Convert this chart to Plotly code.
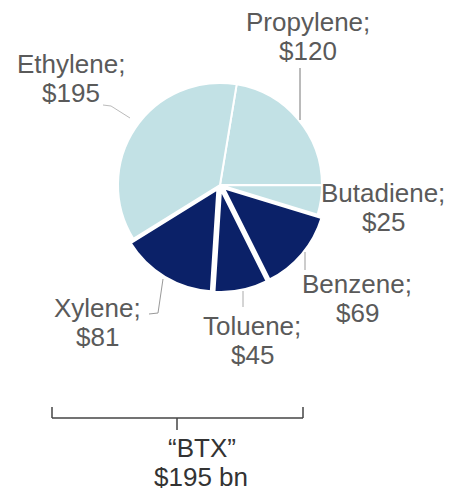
import plotly.graph_objects as go

# Petrochemical market value by product, $ bn
products = ["Propylene", "Butadiene", "Benzene", "Toluene", "Xylene", "Ethylene"]
values = [120, 25, 69, 45, 81, 195]
aromatics = ["Benzene", "Toluene", "Xylene"]

LIGHT = "#c2e1e5"
DARK = "#0b2168"
TEXT = "#5a5a5a"
FONT = "Liberation Sans, Arial, sans-serif"

W, H = 456, 493

colors = [DARK if p in aromatics else LIGHT for p in products]
pulls = [0.05 if p in aromatics else 0 for p in products]

fig = go.Figure()

# pie centred at (220, 185) px with radius ~102 px
cx, cy, r = 220, 185, 102
half = r * 1.05
fig.add_trace(go.Pie(
    labels=products,
    values=values,
    sort=False,
    direction="clockwise",
    rotation=9.4,
    pull=pulls,
    marker=dict(colors=colors, line=dict(color="white", width=2)),
    textinfo="none",
    hoverinfo="label+value",
    showlegend=False,
    domain=dict(x=[(cx - half) / W, (cx + half) / W],
                y=[1 - (cy + half) / H, 1 - (cy - half) / H]),
))

# label placement: (centre x, baseline of first line) in px
label_pos = {
    "Ethylene": (71, 73),
    "Propylene": (308, 31),
    "Butadiene": (383, 202),
    "Benzene": (357, 293),
    "Toluene": (252, 335),
    "Xylene": (97, 317),
}
line_gap = 29
fs = 26

annotations = []
for name, val in zip(products, values):
    x, base = label_pos[name]
    annotations.append(dict(x=x, y=base - 9, text=f"{name};", xref="x", yref="y",
                            showarrow=False, xanchor="center", yanchor="middle",
                            font=dict(family=FONT, size=fs, color=TEXT)))
    annotations.append(dict(x=x, y=base + line_gap - 9, text=f"${val}", xref="x", yref="y",
                            showarrow=False, xanchor="center", yanchor="middle",
                            font=dict(family=FONT, size=fs, color=TEXT)))

btx_total = sum(v for p, v in zip(products, values) if p in aromatics)
annotations.append(dict(x=202, y=457 - 9, text="\u201cBTX\u201d", xref="x", yref="y",
                        showarrow=False, xanchor="center", yanchor="middle",
                        font=dict(family=FONT, size=fs, color="#333333")))
annotations.append(dict(x=201, y=486 - 9, text=f"${btx_total} bn", xref="x", yref="y",
                        showarrow=False, xanchor="center", yanchor="middle",
                        font=dict(family=FONT, size=fs, color="#333333")))

# leader lines and the BTX bracket
def seg(x0, y0, x1, y1, color="#777777", width=1):
    return dict(type="line", xref="x", yref="y", x0=x0, y0=y0, x1=x1, y1=y1,
                line=dict(color=color, width=width), layer="above")

shapes = [
    seg(103, 105, 111, 106, "#bbbbbb"),
    seg(111, 106, 130, 118, "#bbbbbb"),
    seg(300, 68, 300, 120, "#777777"),
    seg(305, 252, 305, 270, "#999999"),
    seg(243, 291, 243, 307, "#aaaaaa"),
    seg(163, 279, 158, 313, "#999999"),
    seg(158, 313, 149, 314, "#999999"),
    # bracket
    seg(52, 418, 303, 418, "#444444", 1.5),
    seg(52, 407, 52, 418, "#444444", 1.5),
    seg(303, 407, 303, 418, "#444444", 1.5),
    seg(177, 418, 177, 430, "#444444", 1.5),
]

fig.update_layout(
    width=W, height=H,
    margin=dict(l=0, r=0, t=0, b=0),
    paper_bgcolor="white",
    plot_bgcolor="rgba(0,0,0,0)",
    xaxis=dict(range=[0, W], visible=False, fixedrange=True),
    yaxis=dict(range=[H, 0], visible=False, fixedrange=True),
    annotations=annotations,
    shapes=shapes,
)

fig.write_html("out.html")
